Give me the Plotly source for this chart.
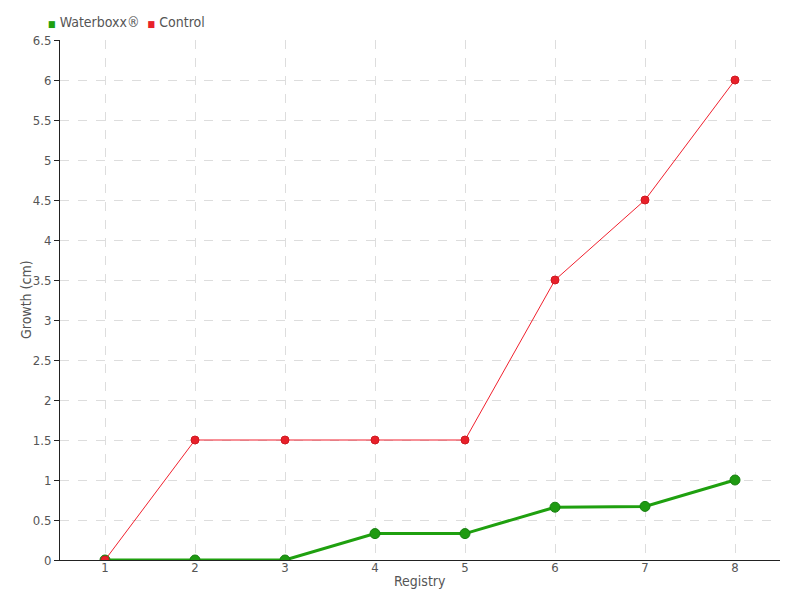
import plotly.graph_objects as go

registry = [1, 2, 3, 4, 5, 6, 7, 8]
waterboxx = [0, 0, 0, 0.33, 0.33, 0.66, 0.67, 1.0]
control = [0, 1.5, 1.5, 1.5, 1.5, 3.5, 4.5, 6.0]
y_ticks = [0, 0.5, 1, 1.5, 2, 2.5, 3, 3.5, 4, 4.5, 5, 5.5, 6, 6.5]

FONT = "DejaVu Sans Condensed, Liberation Sans Narrow, sans-serif"
GREEN = "#1fa00f"
RED = "#e8202a"
TXT = "#555555"

fig = go.Figure()
fig.add_trace(go.Scatter(
    x=registry, y=waterboxx, name="Waterboxx®", mode="lines+markers", showlegend=False,
    line=dict(color=GREEN, width=3),
    marker=dict(color="#1f9a12", size=10, line=dict(color="#178010", width=1)),
))
fig.add_trace(go.Scatter(
    x=registry, y=control, name="Control", mode="lines+markers", showlegend=False,
    line=dict(color="#f0202e", width=1),
    marker=dict(color=RED, size=8, line=dict(color="#d01820", width=1)),
))

# legend (square swatches + names)
legend_text = (f"<span style='color:{GREEN};font-size:9px'>■</span> Waterboxx®  "
               f"<span style='color:{RED};font-size:9px'>■</span> Control")
fig.add_annotation(text=legend_text, xref="paper", yref="paper", x=0, y=1,
                   xanchor="left", yanchor="bottom", xshift=-14, yshift=8,
                   showarrow=False, font=dict(size=14, color=TXT))
# axis titles
fig.add_annotation(text="Registry", xref="paper", yref="paper", x=0.5, y=0,
                   xanchor="center", yanchor="middle", yshift=-21,
                   showarrow=False, font=dict(size=14, color=TXT))
fig.add_annotation(text="Growth (cm)", xref="paper", yref="paper", x=0, y=0.5,
                   xanchor="center", yanchor="middle", xshift=-34, textangle=-90,
                   showarrow=False, font=dict(size=14, color=TXT))

fig.update_layout(
    width=792, height=592,
    paper_bgcolor="white", plot_bgcolor="white",
    margin=dict(l=52, r=20, t=32, b=40, autoexpand=False),
    font=dict(family=FONT, size=13, color=TXT),
    showlegend=False,
    xaxis=dict(
        range=[0.5, 8.5], tickmode="array", tickvals=registry,
        ticktext=[str(v) for v in registry],
        showgrid=True, gridcolor="#dddddd", griddash="dash", gridwidth=1,
        showline=True, linecolor="#222222", linewidth=1,
        ticks="", automargin=False, ticklabelstandoff=-5,
        zeroline=False,
    ),
    yaxis=dict(
        range=[0, 6.5], tickmode="array", tickvals=y_ticks,
        ticktext=[f"{v:g}" for v in y_ticks],
        showgrid=True, gridcolor="#dddddd", griddash="dash", gridwidth=1,
        showline=True, linecolor="#222222", linewidth=1,
        ticks="outside", ticklen=5, tickcolor="#222222", automargin=False,
        zeroline=False,
    ),
)

fig.write_html("out.html")
